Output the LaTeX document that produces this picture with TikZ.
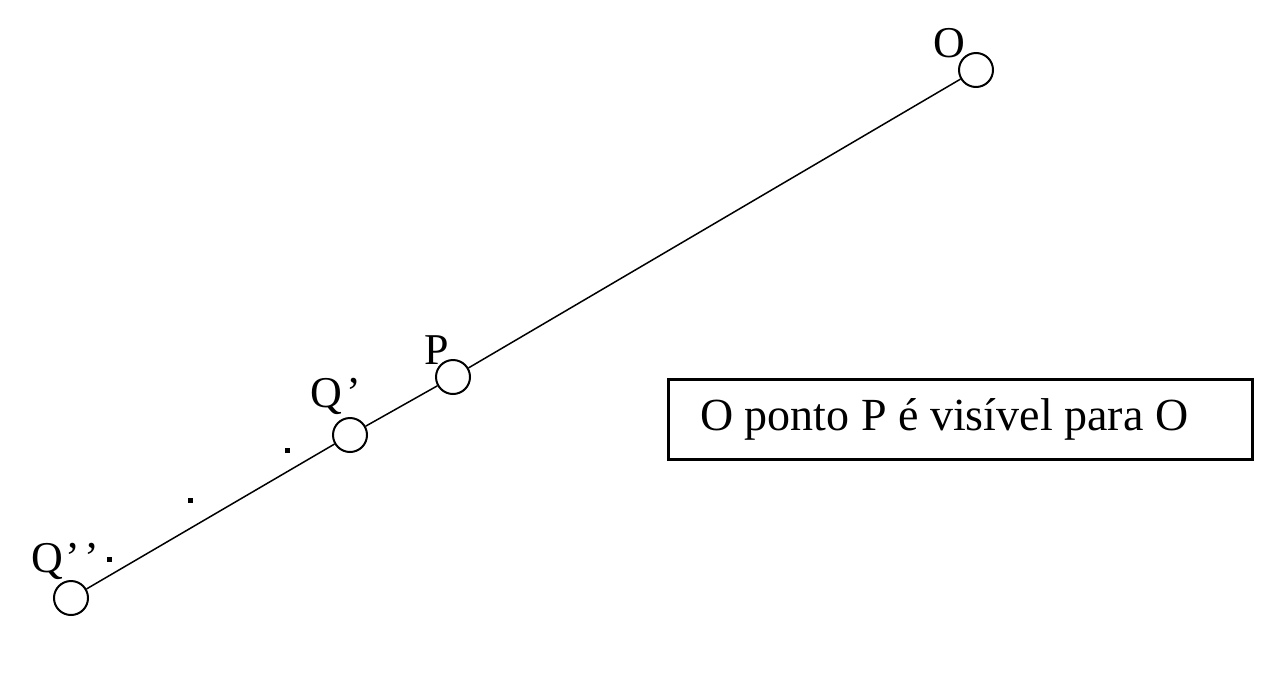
\documentclass[tikz,border=0pt]{standalone}
\usepackage{fontspec}
\setmainfont{Liberation Serif}
\begin{document}
\begin{tikzpicture}[x=1pt,y=-1pt,
  pt/.style={circle,draw,line width=2pt,minimum size=34pt,inner sep=0pt,fill=white},
  lbl/.style={font=\fontsize{44}{44}\selectfont,inner sep=0pt},
  dotm/.style={fill=black,minimum size=5pt,inner sep=0pt},
  seg/.style={line width=1.5pt}]
\useasboundingbox (0,0) rectangle (1287,686);
\node[pt] (O) at (976,70) {};
\node[pt] (P) at (453,377) {};
\node[pt] (Qp) at (350,435) {};
\node[pt] (Qpp) at (71,598) {};
\node[lbl] (lO) at (949,43) {O};
\node[lbl] (lP) at (437,350) {P};
\node[lbl,anchor=west] (lQp) at (310,396) {Q\kern5pt'};
\node[lbl,anchor=west] (lQpp) at (31,561) {Q\kern3pt'\kern4pt'};
\node[dotm] (d1) at (287,450) {};
\node[dotm] (d2) at (190,500) {};
\node[dotm] (d3) at (109,559) {};
\draw[seg] (Qpp) -- (Qp) -- (P) -- (O);
\node[draw,line width=3pt,minimum width=584pt,minimum height=80pt] (box) at (960,419) {};
\node[anchor=west,inner sep=0pt,font=\fontsize{46}{46}\selectfont] (txt) at (700,419) {O ponto P é visível para O};
\end{tikzpicture}
\end{document}
